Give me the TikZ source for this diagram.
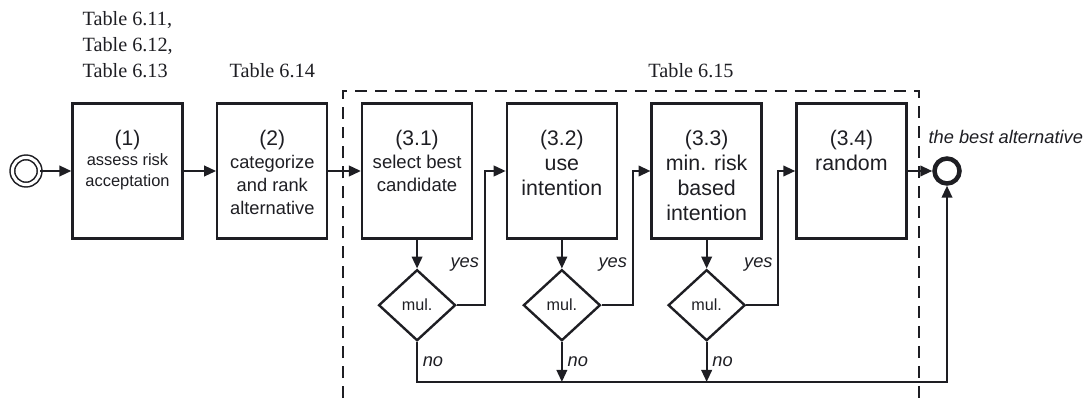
\documentclass[tikz,border=0pt]{standalone}
\usepackage{fontspec}
\setmainfont{Liberation Sans}
\newfontfamily\tabfont{Liberation Serif}
\usetikzlibrary{positioning,shapes.geometric,arrows.meta}

\definecolor{ink}{RGB}{30,30,35}

% text block of a step: number on top, description below
\newcommand{\steptext}[3]{\parbox[c][3.375cm][t]{2.75cm}{\centering\vspace*{19pt}{\fontsize{15}{18}\selectfont #1\par}{#2#3\par}}}

\begin{document}
\begin{tikzpicture}[thick, >={Triangle[length=8.5pt,width=7.5pt]},
        every node/.style={text=ink},
        stepbox/.style={draw=ink, line width=1.7pt, inner sep=0pt, minimum width=2.75cm, minimum height=3.375cm},
        choice/.style={draw=ink, diamond, line width=1.7pt, inner sep=0pt, minimum width=1.925cm, minimum height=1.775cm, font=\fontsize{11.5}{13}\selectfont},
        flow/.style={draw=ink, line width=1.5pt},
        cond/.style={font=\fontsize{13}{15}\selectfont\itshape},
        tablabel/.style={font=\fontsize{14.4}{18.4}\selectfont\tabfont, inner sep=0pt}]
        \useasboundingbox (0,0) rectangle (27.225,9.95);

        % group of step 3
        \draw[ink, line width=1.5pt, dash pattern=on 8.5pt off 5.7pt] (8.575,0) -- (8.575,7.675) -- (22.975,7.675) -- (22.975,0);

        \node[draw=ink, circle, double, double distance=2.2pt, line width=1.1pt, minimum size=0.68cm, inner sep=0pt] (start) at (0.65,5.675) {};
        \node[stepbox] (s1) at (3.1875,5.675) {\steptext{(1)}{\fontsize{11.7}{14.5}\selectfont}{assess risk\\ acceptation}};
        \node[stepbox, right=0.81cm of s1] (s2) {\steptext{(2)}{\fontsize{13}{16.3}\selectfont}{categorize\\ and rank\\ alternative}};
        \node[stepbox, right=0.81cm of s2] (s31) {\steptext{(3.1)}{\fontsize{13.2}{16.5}\selectfont}{select best\\ candidate}};
        \node[stepbox, right=0.81cm of s31] (s32) {\steptext{(3.2)}{\fontsize{15.2}{17.7}\selectfont}{use\\ intention}};
        \node[stepbox, right=0.81cm of s32] (s33) {\steptext{(3.3)}{\fontsize{15.2}{17.7}\selectfont}{min. risk\\ based\\ intention}};
        \node[stepbox, right=0.81cm of s33] (s34) {\steptext{(3.4)}{\fontsize{15.2}{17.7}\selectfont}{random}};
        \node[draw=ink, circle, line width=3.2pt, minimum size=0.625cm, inner sep=0pt] (stop) at (23.675,5.675) {};

        \node[choice, below=0.72cm of s31] (m31) {mul.};
        \node[choice, below=0.72cm of s32] (m32) {mul.};
        \node[choice, below=0.72cm of s33] (m33) {mul.};

        % table references
        \coordinate (tabline) at (0,8.01);
        \node[tablabel, align=left, anchor=north west] (t1) at (2.05,9.675) {Table 6.11,\\Table 6.12,\\Table 6.13};
        \node[tablabel, anchor=base] (t2) at (s2 |- tabline) {Table 6.14};
        \node[tablabel, anchor=base] (t3) at (17.275,8.01) {Table 6.15};
        \node[cond, anchor=base west, inner sep=0pt] (outtxt) at (23.2,6.375) {the best alternative};

        \draw[flow,->] (start) -- (s1);
        \draw[flow,->] (s1) -- (s2);
        \draw[flow,->] (s2) -- (s31);
        \draw[flow,->] (s34) -- (stop);
        \foreach \s in {31,32,33}
            \draw[flow,->] (s\s) -- (m\s);

        % multiple candidates left
        \draw[flow,->] (m31.east) -- ++(0.7,0) |- node[cond, left, pos=0.15] {yes} (s32.west);
        \draw[flow,->] (m32.east) -- ++(0.78,0) |- node[cond, left, pos=0.15] {yes} (s33.west);
        \draw[flow,->] (m33.east) -- ++(0.8,0) |- node[cond, left, pos=0.15] {yes} (s34.west);

        % single candidate
        \draw[flow,->] (m31.south) -- node[cond, right] {no} ++(0,-1cm) -| (stop.south);
        \draw[flow,->] (m32.south) -- node[cond, right] {no} ++(0,-1cm);
        \draw[flow,->] (m33.south) -- node[cond, right] {no} ++(0,-1cm);
\end{tikzpicture}
\end{document}
